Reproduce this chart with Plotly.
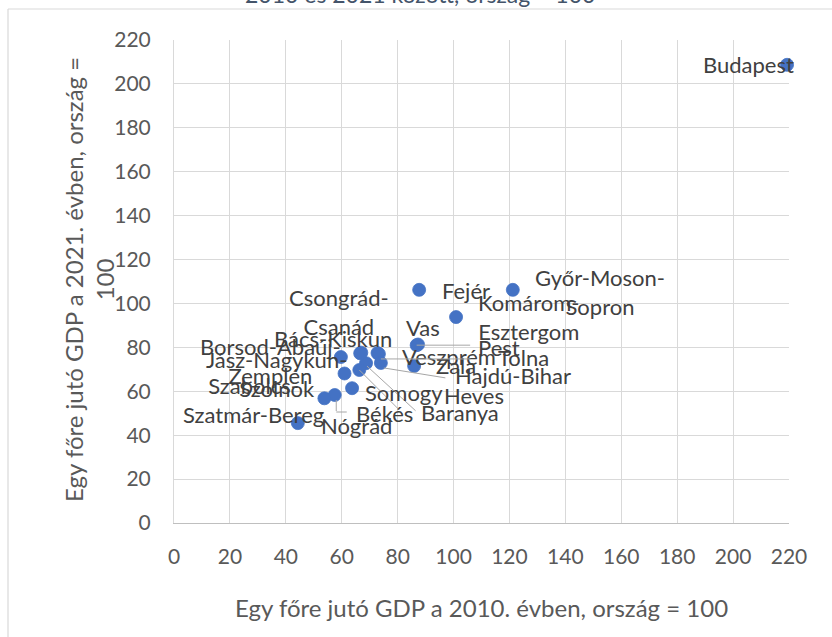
import plotly.graph_objects as go

# ---- data ----
names = ["Budapest", "Győr-Moson-Sopron", "Fejér", "Komárom-Esztergom", "Vas", "Pest",
         "Zala", "Veszprém", "Tolna", "Hajdú-Bihar", "Heves", "Csongrád-Csanád",
         "Bács-Kiskun", "Borsod-Abaúj-Zemplén", "Jász-Nagykun-Szolnok", "Baranya",
         "Somogy", "Békés", "Szabolcs-Szatmár-Bereg", "Nógrád"]
label_text = ["Budapest", "Győr-Moson-<br>Sopron", "Fejér", "Komárom-<br>Esztergom", "Vas", "Pest",
              "Zala", "Veszprém", "Tolna", "Hajdú-Bihar", "Heves", "Csongrád-<br>Csanád",
              "Bács-Kiskun", "Borsod-Abaúj-<br>Zemplén", "Jász-Nagykun-<br>Szolnok", "Baranya",
              "Somogy", "Békés", "Szabolcs-<br>Szatmár-Bereg", "Nógrád"]
gdp2010 = [219.3, 121.2, 87.7, 100.9, 87.3, 86.8, 85.9, 72.8, 73.3, 74.0, 68.7, 67.0,
           66.6, 59.7, 61.0, 66.3, 63.7, 57.5, 53.8, 44.3]
gdp2021 = [208.7, 106.2, 106.2, 93.8, 81.3, 81.0, 71.5, 77.4, 77.0, 72.9, 72.8, 77.6,
           77.3, 75.6, 68.1, 69.7, 61.4, 58.3, 56.8, 45.5]
x_tick_vals = list(range(0, 221, 20))
y_tick_vals = list(range(0, 221, 20))

title_text = "2010 és 2021 között, ország = 100"
x_title = "Egy főre jutó GDP a 2010. évben, ország = 100"
y_title = "Egy főre jutó GDP a 2021. évben, ország =<br>100"

# ---- label placement: (anchor, dx px, dy px (down +)) relative to the marker ----
placement = {
    "Budapest": ("right", 9, 0),
    "Győr-Moson-Sopron": ("left", 20, 2),
    "Fejér": ("left", 21, 1),
    "Komárom-Esztergom": ("left", 20, 0),
    "Vas": ("center", 5, -17),
    "Pest": ("center", 82, 2),
    "Zala": ("left", 20, -1),
    "Veszprém": ("center", 71, 3),
    "Tolna": ("center", 145, 4),
    "Hajdú-Bihar": ("center", 132, 13),
    "Heves": ("center", 108, 32),
    "Baranya": ("center", 101, 43),
    "Somogy": ("left", 11, 4),
    "Békés": ("center", 50, 18),
    "Nógrád": ("left", 21, 2),
    "Szabolcs-Szatmár-Bereg": ("center", -71, 2),
    "Jász-Nagykun-Szolnok": ("right", 4, 1),
    "Borsod-Abaúj-Zemplén": ("right", 2, 4),
    "Bács-Kiskun": ("center", -27, -15),
    "Csongrád-Csanád": ("center", -22, -41),
}
# leader-line segments: (start shift x, start shift y (down +), length x, length y) in px
leaders = {
    "Pest": [(0, 0, 54, 0)],
    "Tolna": [(2, 5, 90, 0)],
    "Hajdú-Bihar": [(3, 5, 62, 10)],
    "Heves": [(1, 3, 49, 45)],
    "Baranya": [(0, 0, 40, 40)],
    "Békés": [(1.5, 5, 0, 12), (1.5, 17, 11, 0)],
}

FONT = "Lato, Calibri, sans-serif"
TXT = "#595959"
LBL = "#404040"
GRID = "#D9D9D9"
LEAD = "#A6A6A6"
LBL_SIZE = 22
TICK_SIZE = 21
TITLE_SIZE = 24

W, H = 832, 637
ML, MR, MT, MB = 174, 43, 40, 114
PW, PH = W - ML - MR, H - MT - MB


def px_to_paper_x(px):
    return (px - ML) / PW


def px_to_paper_y(py):
    return (H - MB - py) / PH


fig = go.Figure()
fig.add_trace(go.Scatter(
    x=gdp2010, y=gdp2021, mode="markers",
    marker=dict(size=13, color="#4472C4", line=dict(width=0.8, color="#4472C4")),
    cliponaxis=False, hoverinfo="text", text=names, showlegend=False,
))

annotations = []
for name, txt, xv, yv in zip(names, label_text, gdp2010, gdp2021):
    anchor, dx, dy = placement[name]
    annotations.append(dict(
        x=xv, y=yv, xref="x", yref="y", text=txt, showarrow=False,
        xanchor=anchor, yanchor="middle", xshift=dx, yshift=-dy,
        font=dict(family=FONT, size=LBL_SIZE, color=LBL), align="center",
    ))
    for sx, sy, lx, ly in leaders.get(name, []):
        annotations.append(dict(
            x=xv, y=yv, xref="x", yref="y", text=" ", showarrow=True,
            arrowhead=0, arrowwidth=1, arrowcolor=LEAD, ax=lx, ay=ly,
            xshift=sx, yshift=-sy, standoff=0, borderpad=0,
            font=dict(family=FONT, size=1, color="rgba(0,0,0,0)"),
        ))

# axis titles and (cut-off) chart title
annotations.append(dict(
    x=0.5, y=px_to_paper_y(607), xref="paper", yref="paper", text=x_title,
    showarrow=False, xanchor="center", yanchor="middle",
    font=dict(family=FONT, size=TITLE_SIZE, color=TXT),
))
annotations.append(dict(
    x=px_to_paper_x(89), y=px_to_paper_y(280), xref="paper", yref="paper", text=y_title,
    showarrow=False, xanchor="center", yanchor="middle", textangle=-90,
    font=dict(family=FONT, size=TITLE_SIZE, color=TXT),
))
annotations.append(dict(
    x=px_to_paper_x(420), y=px_to_paper_y(-6), xref="paper", yref="paper", text=title_text,
    showarrow=False, xanchor="center", yanchor="middle",
    font=dict(family=FONT, size=23, color="#44546A"),
))

shapes = [
    dict(type="line", xref="paper", yref="paper",
         x0=px_to_paper_x(8), x1=px_to_paper_x(840), y0=px_to_paper_y(9), y1=px_to_paper_y(9),
         line=dict(color=GRID, width=1.2)),
    dict(type="line", xref="paper", yref="paper",
         x0=px_to_paper_x(8), x1=px_to_paper_x(8), y0=px_to_paper_y(9), y1=px_to_paper_y(645),
         line=dict(color=GRID, width=1.2)),
]

fig.update_layout(
    width=W, height=H,
    margin=dict(l=ML, r=MR, t=MT, b=MB),
    paper_bgcolor="white", plot_bgcolor="white",
    annotations=annotations, shapes=shapes,
    xaxis=dict(range=[0, 220], tickvals=x_tick_vals, showgrid=True, gridcolor=GRID,
               gridwidth=1, zeroline=False, showline=True, linecolor="#BFBFBF", linewidth=1,
               ticks="", ticklabelstandoff=15,
               tickfont=dict(family=FONT, size=TICK_SIZE, color=TXT)),
    yaxis=dict(range=[0, 220], tickvals=y_tick_vals, showgrid=True, gridcolor=GRID,
               gridwidth=1, zeroline=False, showline=True, linecolor=GRID, linewidth=1,
               ticks="", ticklabelstandoff=18,
               tickfont=dict(family=FONT, size=TICK_SIZE, color=TXT)),
)

fig.write_html("out.html", config={"displayModeBar": False},
               post_script="document.body.style.margin='0';document.body.style.overflow='hidden';")
